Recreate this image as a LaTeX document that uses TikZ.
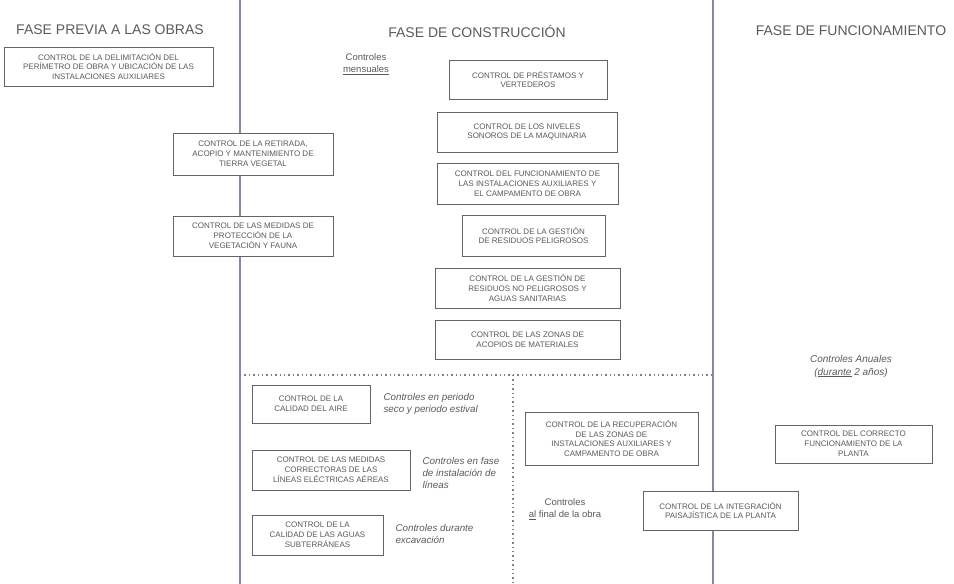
\documentclass[tikz,border=0pt]{standalone}
\usepackage{fontspec}
\setmainfont{Liberation Sans}
\usetikzlibrary{positioning}
\definecolor{phaseline}{RGB}{135,135,170}
\definecolor{boxgray}{RGB}{100,100,100}
\definecolor{textgray}{RGB}{90,90,90}

\begin{document}
\begin{tikzpicture}[x=1pt, y=-1pt,
  ctrlbox/.style={draw=boxgray, fill=white, line width=0.9pt, align=center, inner sep=2pt,
    font=\fontsize{8}{9.8}\selectfont, text=textgray},
  phase/.style={font=\fontsize{14}{16}\selectfont, text=textgray},
  note/.style={font=\fontsize{9.8}{12}\selectfont\itshape, text=textgray, align=left, anchor=west},
  period/.style={font=\fontsize{9.5}{12}\selectfont, text=textgray, align=center},
  divider/.style={draw=phaseline, line width=1.2pt},
  subdivider/.style={draw=gray, line width=1.1pt, dash pattern=on 1.4pt off 3pt}]
  \useasboundingbox (0,0) rectangle (954,584);

  % Phase dividers
  \coordinate (divL top) at (240,0);
  \coordinate (divL bot) at (240,584);
  \coordinate (divR top) at (713,0);
  \coordinate (divR bot) at (713,584);
  \coordinate (sub left) at (240,375);
  \coordinate (sub right) at (713,375);
  \coordinate (sub mid) at (513,375);
  \coordinate (sub bot) at (513,584);
  \draw[divider] (divL top) -- (divL bot);
  \draw[divider] (divR top) -- (divR bot);
  \draw[subdivider] (sub left) -- (sub right);
  \draw[subdivider] (sub mid) -- (sub bot);

  % Phase headings
  \node[phase] (hdrprevia) at (110,30) {FASE PREVIA A LAS OBRAS};
  \node[phase] (hdrconst) at (477,31) {FASE DE CONSTRUCCIÓN};
  \node[phase] (hdrfunc) at (851,31) {FASE DE FUNCIONAMIENTO};

  % Fase previa
  \node[ctrlbox, minimum width=209pt, minimum height=39pt] (delimit) at (108.5,66.5)
    {CONTROL DE LA DELIMITACIÓN DEL\\PERÍMETRO DE OBRA Y UBICACIÓN DE LAS\\INSTALACIONES AUXILIARES};
  \node[ctrlbox, minimum width=160pt, minimum height=42pt] (retirada) at (253,154)
    {CONTROL DE LA RETIRADA,\\ACOPIO Y MANTENIMIENTO DE\\TIERRA VEGETAL};
  \node[ctrlbox, minimum width=160pt, minimum height=40pt] (proteccion) at (253,236)
    {CONTROL DE LAS MEDIDAS DE\\PROTECCIÓN DE LA\\VEGETACIÓN Y FAUNA};

  % Fase de construccion: controles mensuales
  \node[period] (mensual) at (366,64) {Controles\\\underline{mensuales}};
  \node[ctrlbox, minimum width=158pt, minimum height=39pt] (prestamos) at (528,79.5)
    {CONTROL DE PRÉSTAMOS Y\\VERTEDEROS};
  \node[ctrlbox, minimum width=180pt, minimum height=40pt] (sonoros) at (527,132)
    {CONTROL DE LOS NIVELES\\SONOROS DE LA MAQUINARIA};
  \node[ctrlbox, minimum width=181pt, minimum height=41pt] (funcion) at (527.5,183.5)
    {CONTROL DEL FUNCIONAMIENTO DE\\LAS INSTALACIONES AUXILIARES Y\\EL CAMPAMENTO DE OBRA};
  \node[ctrlbox, minimum width=143pt, minimum height=41pt] (peligrosos) at (533.5,235.5)
    {CONTROL DE LA GESTIÓN\\DE RESIDUOS PELIGROSOS};
  \node[ctrlbox, minimum width=185pt, minimum height=40pt] (nopelig) at (527.5,288)
    {CONTROL DE LA GESTIÓN DE\\RESIDUOS NO PELIGROSOS Y\\AGUAS SANITARIAS};
  \node[ctrlbox, minimum width=185pt, minimum height=39pt] (acopios) at (527.5,339.5)
    {CONTROL DE LAS ZONAS DE\\ACOPIOS DE MATERIALES};

  % Fase de construccion: controles puntuales
  \node[ctrlbox, minimum width=118pt, minimum height=38pt] (aire) at (311,404)
    {CONTROL DE LA\\CALIDAD DEL AIRE};
  \node[note] (lblaire) at (380,404) {Controles en periodo\\seco y periodo estival};
  \node[ctrlbox, minimum width=158pt, minimum height=40pt] (lineas) at (331,470)
    {CONTROL DE LAS MEDIDAS\\CORRECTORAS DE LAS\\LÍNEAS ELÉCTRICAS AÉREAS};
  \node[note] (lbllineas) at (419,473) {Controles en fase\\de instalación de\\líneas};
  \node[ctrlbox, minimum width=131pt, minimum height=40pt] (aguas) at (317.5,535)
    {CONTROL DE LA\\CALIDAD DE LAS AGUAS\\SUBTERRÁNEAS};
  \node[note] (lblaguas) at (392,534) {Controles durante\\excavación};

  % Controles al final de la obra
  \node[ctrlbox, minimum width=173pt, minimum height=53pt] (recupera) at (611.5,438.5)
    {CONTROL DE LA RECUPERACIÓN\\DE LAS ZONAS DE\\INSTALACIONES AUXILIARES Y\\CAMPAMENTO DE OBRA};
  \node[period] (lblfinal) at (565,509) {Controles\\\underline{al} final de la obra};
  \node[ctrlbox, minimum width=155pt, minimum height=39pt] (integra) at (720.5,510.5)
    {CONTROL DE LA INTEGRACIÓN\\PAISAJÍSTICA DE LA PLANTA};

  % Fase de funcionamiento
  \node[period, font=\fontsize{10}{13}\selectfont\itshape] (lblanual) at (851,366)
    {Controles Anuales\\(\underline{durante} 2 años)};
  \node[ctrlbox, minimum width=157pt, minimum height=38pt] (correcto) at (853.5,444)
    {CONTROL DEL CORRECTO\\FUNCIONAMIENTO DE LA\\PLANTA};
\end{tikzpicture}
\end{document}
